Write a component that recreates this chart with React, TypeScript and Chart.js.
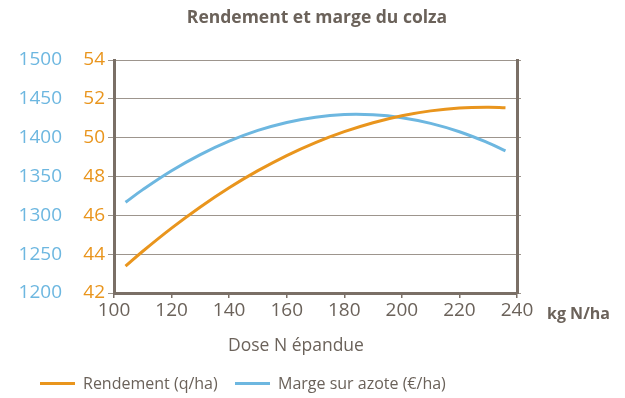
import React, { useEffect, useRef } from "react";
import { Chart, registerables } from "chart.js";
Chart.register(...registerables);

const doses = [104, 110, 120, 130, 140, 150, 160, 170, 180, 190, 200, 210, 220, 230, 236];
const rendement = [43.38, 44.15, 45.34, 46.43, 47.42, 48.3, 49.08, 49.75, 50.31, 50.77, 51.13, 51.38, 51.53, 51.57, 51.54];
const marge = [1316.8, 1333.1, 1357.4, 1378.2, 1395.5, 1409.3, 1419.6, 1426.4, 1429.7, 1429.4, 1425.7, 1418.4, 1407.6, 1393.3, 1383.1];

const TITLE = "Rendement et marge du colza";
const X_UNIT = "kg N/ha";
const X_TITLE = "Dose N épandue";
const LABEL_REND = "Rendement (q/ha)";
const LABEL_MARGE = "Marge sur azote (€/ha)";

const ORANGE = "#e9951d";
const BLUE = "#6db7e0";
const TEXT = "#6b625a";
const AXIS = "#7a6f66";
const GRID = "#9d958d";
const FONT = "'Open Sans', sans-serif";

export default function App() {
  const ref = useRef<HTMLCanvasElement>(null);
  useEffect(() => {
    if (!ref.current) return;
    const textPlugin = {
      id: "texts",
      afterDraw(chart: any) {
        const ctx = chart.ctx;
        ctx.save();
        ctx.fillStyle = TEXT;
        ctx.textBaseline = "middle";
        ctx.textAlign = "center";
        ctx.font = `bold 17.5px ${FONT}`;
        ctx.fillText(TITLE, 317, 18);
        ctx.textAlign = "left";
        ctx.font = `bold 16px ${FONT}`;
        ctx.fillText(X_UNIT, 547, 314);
        ctx.font = `17.5px ${FONT}`;
        ctx.fillText(X_TITLE, 228, 346);
        ctx.restore();
      },
    };
    const chart = new Chart(ref.current, {
      type: "line",
      data: {
        datasets: [
          {
            label: LABEL_REND,
            data: doses.map((d, i) => ({ x: d, y: rendement[i] })),
            borderColor: ORANGE,
            backgroundColor: ORANGE,
            borderWidth: 3,
            pointRadius: 0,
            tension: 0.4,
            yAxisID: "yO",
          },
          {
            label: LABEL_MARGE,
            data: doses.map((d, i) => ({ x: d, y: marge[i] })),
            borderColor: BLUE,
            backgroundColor: BLUE,
            borderWidth: 3,
            pointRadius: 0,
            tension: 0.4,
            yAxisID: "yB",
          },
        ],
      },
      options: {
        responsive: false,
        animation: false,
        layout: { padding: { top: 60, bottom: 65, left: 0, right: 0 } },
        plugins: {
          legend: { display: false },
          title: { display: false },
          tooltip: { enabled: false },
        },
        scales: {
          x: {
            type: "linear",
            min: 100,
            max: 240,
            ticks: { stepSize: 20, color: TEXT, font: { family: FONT, size: 19 }, padding: 1 },
            grid: { drawOnChartArea: false, drawTicks: true, tickLength: 5, color: AXIS, lineWidth: 1.5 },
            border: { display: true, color: AXIS, width: 3 },
            afterFit: (s: any) => { s.height = 40; },
          },
          yO: {
            type: "linear",
            position: "left",
            weight: 0,
            min: 42,
            max: 54,
            ticks: { stepSize: 2, color: ORANGE, font: { family: FONT, size: 19 }, padding: 3 },
            grid: { color: GRID, lineWidth: 1, tickLength: 6, drawTicks: true },
            border: { display: true, color: AXIS, width: 3 },
            afterFit: (s: any) => { s.width = 36; },
          },
          yB: {
            type: "linear",
            position: "left",
            weight: 1,
            min: 1200,
            max: 1500,
            ticks: { stepSize: 50, color: BLUE, font: { family: FONT, size: 19 }, padding: 8, callback: (v: any) => String(v) },
            grid: { display: false },
            border: { display: false },
            afterFit: (s: any) => { s.width = 78; },
          },
          yR: {
            type: "linear",
            position: "right",
            min: 42,
            max: 54,
            ticks: { stepSize: 2, display: false },
            grid: { drawOnChartArea: false, drawTicks: true, tickLength: 4, color: GRID, lineWidth: 1 },
            border: { display: true, color: AXIS, width: 3 },
            afterFit: (s: any) => { s.width = 108; },
          },
        },
      },
      plugins: [textPlugin],
    } as any);
    return () => chart.destroy();
  }, []);

  const legendItem = (color: string, label: string, left: number) => (
    <div style={{ position: "absolute", left, top: 372, display: "flex", alignItems: "center", height: 22 }}>
      <div style={{ width: 35, height: 3, background: color, marginRight: 8 }} />
      <span style={{ fontFamily: FONT, fontSize: 16, color: TEXT, whiteSpace: "nowrap" }}>{label}</span>
    </div>
  );

  return (
    <div style={{ position: "absolute", left: 0, top: 0, width: 625, height: 398, background: "#fff" }}>
      <canvas ref={ref} width={625} height={398} style={{ display: "block" }} />
      {legendItem(ORANGE, LABEL_REND, 40)}
      {legendItem(BLUE, LABEL_MARGE, 235)}
    </div>
  );
}
